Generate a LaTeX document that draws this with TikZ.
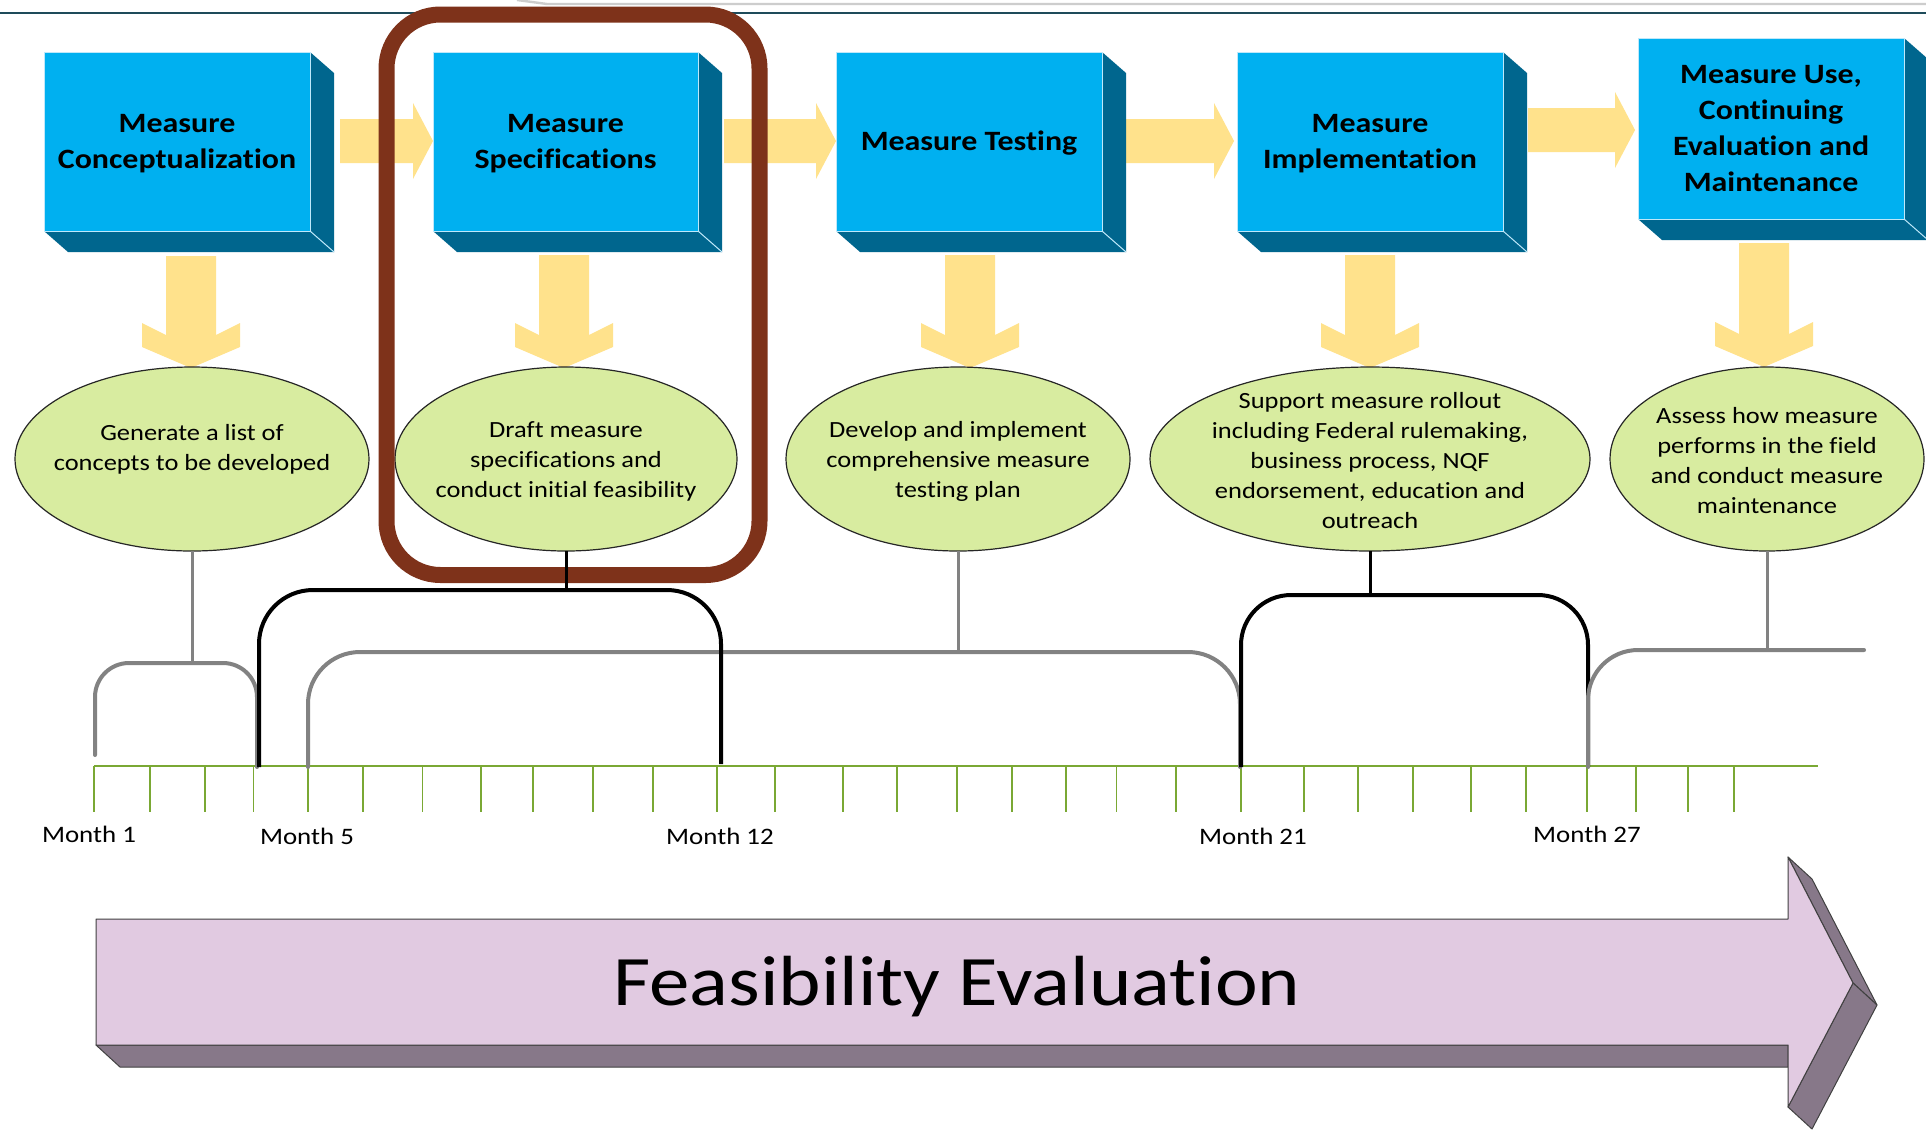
\documentclass[tikz,border=0pt]{standalone}
\usepackage{fontspec}
\setmainfont{Carlito}[FakeStretch=1.14, Ligatures=NoCommon]
\usetikzlibrary{shapes.geometric,calc}
\definecolor{boxfront}{RGB}{0,176,240}
\definecolor{boxside}{RGB}{0,102,142}
\definecolor{boxedge}{RGB}{190,232,250}
\definecolor{yel}{RGB}{255,226,140}
\definecolor{ellfill}{RGB}{216,236,160}
\definecolor{brownc}{RGB}{126,50,26}
\definecolor{grayc}{RGB}{130,130,130}
\definecolor{greenc}{RGB}{122,168,52}
\definecolor{lilac}{RGB}{225,202,225}
\definecolor{lilacside}{RGB}{135,120,137}
\definecolor{tealc}{RGB}{30,75,90}
\definecolor{topgray}{RGB}{205,205,205}
% 3D box: #1 name, #2 L, #3 T, #4 R, #5 B, #6 text
\newcommand\cubebox[6]{%
  \fill[boxside] (#4,#3) -- (#4+24,#3+21) -- (#4+24,#5+21) -- (#4,#5) -- cycle;
  \fill[boxside] (#2,#5) -- (#4,#5) -- (#4+24,#5+21) -- (#2+24,#5+21) -- cycle;
  \draw[boxedge, line width=0.5pt] (#4,#5) -- (#4+24,#5+21);
  \node[boxnode, minimum width={(#4-#2)*0.5pt}, minimum height={(#5-#3)*0.5pt}]
    (#1) at ({(#2+#4)/2},{(#3+#5)/2}) {};
  \node[boxtext] (#1t) at ($(#1.center)+(0,2)$) {#6};
}
% horizontal yellow arrow: #1 start x, #2 tip x, #3 centre y
\newcommand\yelharrow[3]{%
  \fill[yel] (#1,#3-22) -- (#2-20,#3-22) -- (#2-20,#3-38) -- (#2,#3)
    -- (#2-20,#3+38) -- (#2-20,#3+22) -- (#1,#3+22) -- cycle;
}
% vertical yellow arrow: #1 centre x, #2 top y, #3 tip y
\newcommand\yelvarrow[3]{%
  \fill[yel] (#1-25,#2) -- (#1+25,#2) -- (#1+25,#3-33) -- (#1+49,#3-45)
    -- (#1+49,#3-21) -- (#1,#3) -- (#1-49,#3-21) -- (#1-49,#3-45)
    -- (#1-25,#3-33) -- cycle;
}
\begin{document}
\begin{tikzpicture}[x=0.5pt,y=-0.5pt,
  boxnode/.style={rectangle, fill=boxfront, draw=boxedge, line width=0.5pt,
    inner sep=0pt, outer sep=0pt},
  boxtext/.style={align=center, inner sep=0pt,
    font=\fontsize{14pt}{18pt}\selectfont\bfseries},
  ellnode/.style={ellipse, fill=ellfill, draw=black!85, line width=0.6pt,
    minimum height=92pt, inner sep=0pt, outer sep=0pt},
  elltext/.style={align=center, inner sep=0pt,
    font=\fontsize{11.6pt}{15pt}\selectfont},
  monthlabel/.style={anchor=base, inner sep=0pt,
    font=\fontsize{11.8pt}{14pt}\selectfont},
  graystem/.style={draw=grayc, line width=1.5pt},
  blackstem/.style={draw=black, line width=1.5pt},
  graybracket/.style={draw=grayc, line width=2pt, line cap=round},
  blackbracket/.style={draw=black, line width=2pt},
  tickline/.style={draw=greenc, line width=0.7pt},
  bigface/.style={fill=lilac, draw=black!75, line width=0.5pt, line join=round},
  bigside/.style={fill=lilacside, draw=black!75, line width=0.5pt, line join=round},
]
\useasboundingbox (0,0) rectangle (1926,1142);
\fill[white] (0,0) rectangle (1926,1142);

% top lines
\draw[topgray, line width=1.2pt] (517,0) -- (547,4) -- (1926,4);
\draw[tealc, line width=1pt] (0,13) -- (1926,13);

% horizontal yellow arrows
\yelharrow{340}{433}{141}
\yelharrow{724}{836}{141}
\yelharrow{1121}{1234}{141}
\yelharrow{1528}{1635}{130}

% vertical yellow arrows
\yelvarrow{191}{256}{368}
\yelvarrow{564}{255}{368}
\yelvarrow{970}{255}{368}
\yelvarrow{1370}{255}{368}
\yelvarrow{1764}{243}{367}

% boxes
\cubebox{b1}{44}{52}{310}{231}{\strut Measure\\Conceptualization\strut}
\cubebox{b2}{433}{52}{698}{231}{\strut Measure\\Specifications\strut}
\cubebox{b3}{836}{52}{1102}{231}{\strut Measure Testing\strut}
\cubebox{b4}{1237}{52}{1503}{231}{\strut Measure\\Implementation\strut}
\cubebox{b5}{1638}{38}{1904}{219}{\strut Measure Use,\\Continuing\\Evaluation and\\Maintenance\strut}

% ellipses
\node[ellnode, minimum width=177pt] (e1) at (192,459) {};
\node[ellnode, minimum width=171pt] (e2) at (566,459) {};
\node[ellnode, minimum width=172pt] (e3) at (958,459) {};
\node[ellnode, minimum width=220pt] (e4) at (1370,459) {};
\node[ellnode, minimum width=157pt] (e5) at (1767,459) {};
\node[elltext] (e1t) at (192,449.5) {\strut Generate a list of\\concepts to be developed\strut};
\node[elltext] (e2t) at (566,461) {\strut Draft measure\\specifications and\\conduct initial feasibility\strut};
\node[elltext] (e3t) at (958,461) {\strut Develop and implement\\comprehensive measure\\testing plan\strut};
\node[elltext] (e4t) at (1370,462) {\strut Support measure rollout\\including Federal rulemaking,\\business process, NQF\\endorsement, education and\\outreach\strut};
\node[elltext] (e5t) at (1767,462) {\strut Assess how measure\\performs in the field\\and conduct measure\\maintenance\strut};

% highlight frame
\draw[brownc, line width=8pt, rounded corners=27pt] (386.5,14.5) rectangle (759.5,575);

% timeline
\foreach \x [count=\i from 0] in {94,150,205,253.5,308,363,422.5,481,533,593,653,717,775,843,897,957,1012,1066,1116.5,1176,1241,1304,1358,1413,1471,1526,1587,1636,1688,1734}
  {\coordinate (t\i) at (\x,766); \draw[tickline] (t\i) -- ++(0,46);}
\coordinate (tend) at (1818,766);
\draw[greenc, line width=1pt] (t0) -- (tend);

% bracket coordinates
\coordinate (k1) at (192,663);
\coordinate (g1l) at (95,755);
\coordinate (g1r) at (257,767);
\coordinate (k2) at (566,590);
\coordinate (b1l) at (259,767);
\coordinate (b1r) at (721,764);
\coordinate (k3) at (958,652);
\coordinate (g2l) at (308,767);
\coordinate (g2r) at (1240,767);
\coordinate (k4) at (1370,595);
\coordinate (b2l) at (1241,767);
\coordinate (b2r) at (1588,767);
\coordinate (k5) at (1767,650);
\coordinate (g3l) at (1588,767);
\coordinate (g3r) at (1864,650);

% stems and brackets
\draw[graystem] (e1.south) -- (k1);
\draw[graybracket, rounded corners=17pt] (g1l) |- (k1) -| (g1r);
\draw[graystem] (e3.south) -- (k3);
\draw[graybracket, rounded corners=26pt] (g2l) |- (k3) -| (g2r);
\draw[blackstem] (e2.south) -- (k2);
\draw[blackbracket, rounded corners=27pt] (b1l) |- (k2) -| (b1r);
\draw[blackstem] (e4.south) -- (k4);
\draw[blackbracket, rounded corners=25pt] (b2l) |- (k4) -| (b2r);
\draw[graystem] (e5.south) -- (k5);
\draw[graybracket, rounded corners=25pt] (g3l) |- (k5) -- (g3r);

% month labels
\node[monthlabel] (m1) at (89,842) {Month 1};
\node[monthlabel] (m5) at (307,844) {Month 5};
\node[monthlabel] (m12) at (720,844) {Month 12};
\node[monthlabel] (m21) at (1253,844) {Month 21};
\node[monthlabel] (m27) at (1587,842) {Month 27};

% big 3D arrow
\path[bigside] (96,1045) -- (1788,1045) -- (1788,1067) -- (120,1067) -- cycle;
\path[bigside] (1788,857) -- (1812,879) -- (1877,1005) -- (1853,983) -- cycle;
\path[bigside] (1853,983) -- (1877,1005) -- (1812,1129) -- (1788,1107) -- cycle;
\path[bigface] (96,919) -- (1788,919) -- (1788,857) -- (1853,983) -- (1788,1107)
  -- (1788,1045) -- (96,1045) -- cycle;
\node[anchor=base, inner sep=0pt, font=\fontsize{35.5pt}{40pt}\selectfont] (fe) at (957,1005) {Feasibility Evaluation};
\end{tikzpicture}
\end{document}
